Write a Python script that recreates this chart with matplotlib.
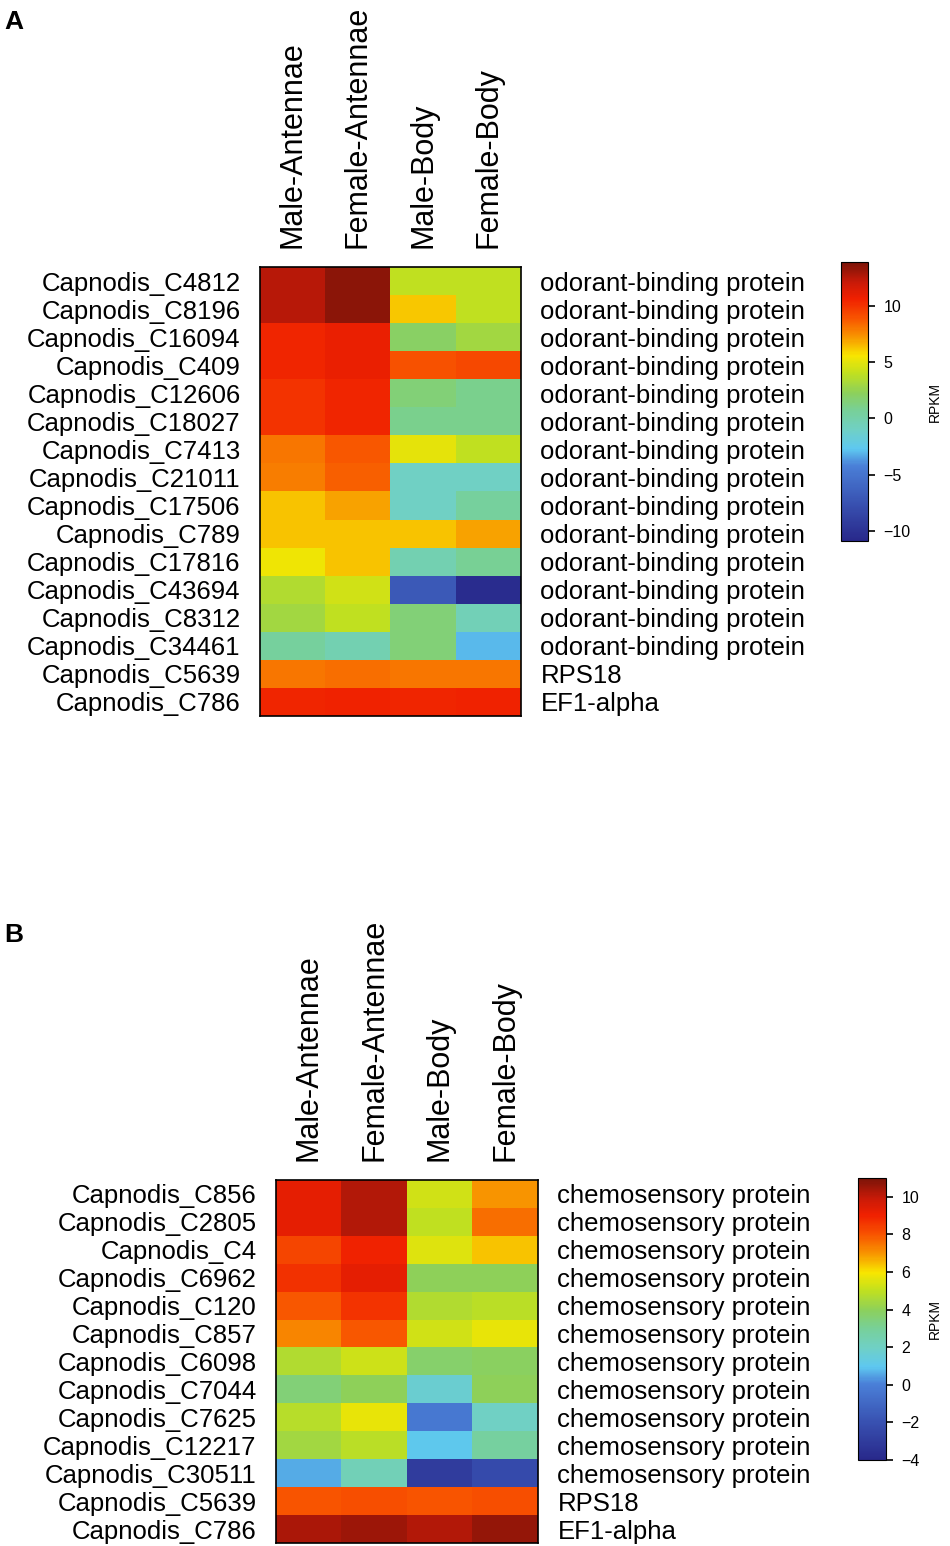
import numpy as np
import matplotlib
matplotlib.use("Agg")
import matplotlib.pyplot as plt
from matplotlib.colors import LinearSegmentedColormap

plt.rcParams["font.family"] = ["Liberation Sans", "DejaVu Sans"]

# ---- data ----
samples = ["Male-Antennae", "Female-Antennae", "Male-Body", "Female-Body"]

genes_a = ["Capnodis_C4812", "Capnodis_C8196", "Capnodis_C16094", "Capnodis_C409",
           "Capnodis_C12606", "Capnodis_C18027", "Capnodis_C7413", "Capnodis_C21011",
           "Capnodis_C17506", "Capnodis_C789", "Capnodis_C17816", "Capnodis_C43694",
           "Capnodis_C8312", "Capnodis_C34461", "Capnodis_C5639", "Capnodis_C786"]
desc_a = ["odorant-binding protein"] * 14 + ["RPS18", "EF1-alpha"]
rpkm_a = [
    [12.5, 13.5, 4.0, 4.0],
    [12.5, 13.5, 6.2, 4.0],
    [10.5, 10.8, 2.0, 3.0],
    [10.5, 10.8, 9.0, 9.3],
    [10.0, 10.5, 1.5, 1.0],
    [10.0, 10.5, 1.0, 1.0],
    [8.0, 8.8, 5.0, 4.0],
    [7.8, 8.6, -1.0, -1.0],
    [6.3, 7.0, -1.0, 0.5],
    [6.3, 6.3, 6.3, 7.0],
    [5.3, 6.3, -0.3, 0.8],
    [3.5, 4.5, -7.0, -10.5],
    [3.0, 4.0, 1.5, -0.5],
    [0.5, -0.3, 1.5, -3.0],
    [8.0, 8.2, 8.0, 8.0],
    [10.5, 10.6, 10.5, 10.6],
]

genes_b = ["Capnodis_C856", "Capnodis_C2805", "Capnodis_C4", "Capnodis_C6962",
           "Capnodis_C120", "Capnodis_C857", "Capnodis_C6098", "Capnodis_C7044",
           "Capnodis_C7625", "Capnodis_C12217", "Capnodis_C30511", "Capnodis_C5639",
           "Capnodis_C786"]
desc_b = ["chemosensory protein"] * 11 + ["RPS18", "EF1-alpha"]
rpkm_b = [
    [9.3, 10.2, 5.3, 7.0],
    [9.3, 10.2, 5.0, 7.6],
    [8.3, 9.0, 5.5, 6.4],
    [8.7, 9.3, 4.0, 4.0],
    [7.9, 8.6, 4.7, 4.9],
    [7.2, 7.9, 5.3, 5.7],
    [4.7, 5.2, 3.7, 3.9],
    [3.5, 4.0, 1.7, 4.0],
    [4.8, 5.7, -0.3, 2.0],
    [4.4, 4.9, 1.0, 2.8],
    [0.6, 2.3, -3.0, -2.3],
    [8.0, 8.1, 8.0, 8.1],
    [10.3, 10.5, 10.2, 10.6],
]

range_a = (-10.9, 13.9)
range_b = (-4.0, 11.0)

# muted jet-like palette as seen in the figure
cmap = LinearSegmentedColormap.from_list("mjet", [
    (0.00, "#28288a"), (0.13, "#3850b0"), (0.27, "#4a80d8"), (0.33, "#5ec8f0"),
    (0.40, "#70d0c4"), (0.47, "#78d096"), (0.53, "#8cd05c"), (0.60, "#c0e020"),
    (0.665, "#f8e600"), (0.73, "#f89800"), (0.80, "#f85400"), (0.87, "#f02000"),
    (0.93, "#c81a08"), (1.00, "#7a1408"),
])

W, H = 950, 1546
fig = plt.figure(figsize=(W / 100, H / 100), dpi=100)


def px_axes(x0, y0, x1, y1):
    return fig.add_axes([x0 / W, 1 - y1 / H, (x1 - x0) / W, (y1 - y0) / H])


def panel(box, cbox, genes, desc, vals, vrange, ticks):
    ax = px_axes(*box)
    im = ax.imshow(np.array(vals), cmap=cmap, vmin=vrange[0], vmax=vrange[1],
                   aspect="auto", interpolation="nearest")
    ax.set_yticks(range(len(genes)))
    ax.set_yticklabels(genes, fontsize=18.5)
    ax.set_xticks(range(len(samples)))
    ax.set_xticklabels(samples, rotation=90, fontsize=22)
    ax.xaxis.tick_top()
    ax.tick_params(length=0, pad=14)
    for s in ax.spines.values():
        s.set_linewidth(1.2)
    right = ax.secondary_yaxis("right")
    right.set_yticks(range(len(genes)))
    right.set_yticklabels(desc, fontsize=18.5)
    right.tick_params(length=0, pad=14)
    right.spines["right"].set_visible(False)

    # colorbar
    cax = px_axes(*cbox)
    cb = fig.colorbar(im, cax=cax, ticks=ticks)
    cb.ax.tick_params(labelsize=11.5, length=5, width=1.2, pad=6)
    cb.set_label("RPKM", fontsize=10)
    cb.ax.yaxis.label.set_verticalalignment("center")
    cb.ax.yaxis.label.set_horizontalalignment("center")
    cb.ax.yaxis.set_label_coords((935 - cbox[0]) / (cbox[2] - cbox[0]), 0.5)
    cb.outline.set_linewidth(0.8)
    return ax


panel((260, 267, 521, 716), (841, 262, 868, 541), genes_a, desc_a, rpkm_a,
      range_a, [-10, -5, 0, 5, 10])
panel((276, 1180, 538, 1543), (858, 1178, 886, 1460), genes_b, desc_b, rpkm_b,
      range_b, [-4, -2, 0, 2, 4, 6, 8, 10])

fig.text(4 / W, 1 - 22 / H, "A", fontsize=19, fontweight="bold", va="center")
fig.text(4 / W, 1 - 935 / H, "B", fontsize=19, fontweight="bold", va="center")

fig.savefig("out.png", dpi=100)
